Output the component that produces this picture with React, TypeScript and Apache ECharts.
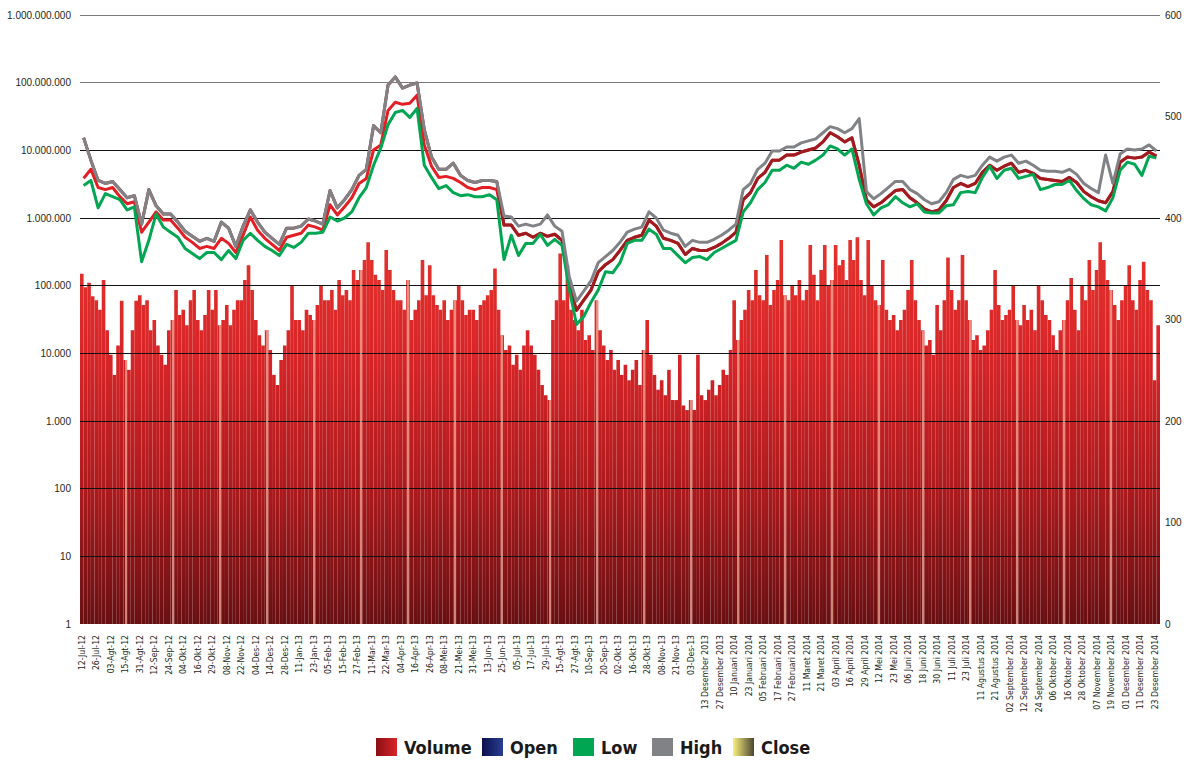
import React, { useEffect, useRef } from 'react';
import * as echarts from 'echarts';

// Tick labels of the date axis (one every four trading sessions)
const dateLabels = [
  '12-Jul-12', '26-Jul-12', '03-Agt-12', '15-Agt-12', '31-Agt-12', '12-Sep-12', '24-Sep-12', '04-Okt-12',
  '16-Okt-12', '29-Okt-12', '08-Nov-12', '22-Nov-12', '04-Des-12', '14-Des-12', '28-Des-12', '11-Jan-13',
  '23-Jan-13', '05-Feb-13', '15-Feb-13', '27-Feb-13', '11-Mar-13', '22-Mar-13', '04-Apr-13', '16-Apr-13',
  '26-Apr-13', '08-Mei-13', '21-Mei-13', '31-Mei-13', '13-Jun-13', '25-Jun-13', '05-Jul-13', '17-Jul-13',
  '29-Jul-13', '15-Agt-13', '27-Agt-13', '10-Sep-13', '20-Sep-13', '02-Okt-13', '16-Okt-13', '28-Okt-13',
  '08-Nov-13', '21-Nov-13', '03-Des-13', '13 Desember 2013', '27 Desember 2013', '10 Januari 2014',
  '23 Januari 2014', '05 Februari 2014', '17 Februari 2014', '27 Februari 2014', '11 Maret 2014',
  '21 Maret 2014', '03 April 2014', '16 April 2014', '29 April 2014', '12 Mei 2014', '23 Mei 2014',
  '06 Juni 2014', '18 Juni 2014', '30 Juni 2014', '11 Juli 2014', '23 Juli 2014', '11 Agustus 2014',
  '21 Agustus 2014', '02 September 2014', '12 September 2014', '24 September 2014', '06 Oktober 2014',
  '16 Oktober 2014', '28 Oktober 2014', '07 November 2014', '19 November 2014', '01 Desember 2014',
  '11 Desember 2014', '23 Desember 2014',
];

// Traded volume per session (log scale, left axis)
const volume = [
  150000, 95000, 110000, 70000, 61000, 44000, 121000, 22000, 9500, 4800, 13000, 60000,
  8000, 5700, 22000, 60000, 72000, 52000, 61000, 22000, 31000, 13000, 9500, 6800,
  22000, 31000, 86000, 37000, 44000, 26000, 61000, 86000, 31000, 22000, 37000, 86000,
  44000, 86000, 26000, 31000, 52000, 26000, 44000, 61000, 61000, 121000, 200000, 86000,
  31000, 18500, 13000, 22000, 11200, 4800, 3400, 8000, 13000, 22000, 102000, 31000,
  31000, 22000, 44000, 37000, 31000, 52000, 102000, 61000, 61000, 86000, 44000, 121000,
  72000, 86000, 61000, 170000, 121000, 170000, 239000, 440000, 239000, 145000, 121000, 86000,
  336000, 170000, 86000, 61000, 61000, 44000, 121000, 31000, 44000, 61000, 239000, 72000,
  200000, 72000, 52000, 44000, 61000, 31000, 44000, 61000, 102000, 61000, 37000, 44000,
  44000, 31000, 52000, 61000, 72000, 86000, 180000, 44000, 18500, 11200, 13000, 6800,
  9500, 5700, 13000, 22000, 13000, 9500, 5700, 3400, 2400, 2040, 31000, 61000,
  300000, 61000, 200000, 44000, 31000, 22000, 44000, 15700, 18500, 11200, 61000, 22000,
  13000, 8000, 11200, 5700, 8000, 4800, 6800, 4000, 5700, 8000, 3400, 11200,
  31000, 9500, 4800, 2900, 4000, 2400, 5700, 2040, 2040, 9500, 1700, 1450,
  2040, 1450, 9500, 2400, 2040, 2900, 4000, 2400, 3400, 5700, 4800, 11200,
  61000, 15700, 31000, 44000, 86000, 61000, 170000, 72000, 61000, 285000, 52000, 86000,
  121000, 473000, 72000, 61000, 102000, 72000, 121000, 61000, 86000, 400000, 145000, 61000,
  170000, 400000, 102000, 121000, 400000, 200000, 239000, 121000, 473000, 239000, 520000, 121000,
  72000, 473000, 102000, 61000, 52000, 239000, 44000, 31000, 37000, 22000, 31000, 44000,
  86000, 239000, 61000, 31000, 22000, 13000, 15700, 9500, 52000, 22000, 61000, 260000,
  86000, 44000, 61000, 285000, 61000, 31000, 15700, 18500, 11200, 13000, 22000, 44000,
  170000, 52000, 31000, 37000, 44000, 102000, 31000, 26000, 52000, 31000, 44000, 22000,
  102000, 61000, 37000, 31000, 18500, 11200, 22000, 31000, 61000, 130000, 44000, 22000,
  102000, 61000, 239000, 86000, 170000, 440000, 239000, 121000, 86000, 52000, 31000, 61000,
  102000, 200000, 61000, 44000, 121000, 225000, 86000, 61000, 4000, 26000,
];

// Prices, two points per label interval (right axis)
const highPrice = [
  479, 457, 437, 434, 436, 428, 420, 422, 394, 428,
  412, 404, 404, 396, 387, 382, 377, 380, 377, 396,
  390, 372, 392, 408, 396, 386, 380, 374, 390, 390,
  392, 399, 397, 394, 427, 410, 418, 428, 442, 448,
  491, 484, 531, 539, 528, 531, 533, 487, 460, 448,
  448, 454, 442, 437, 435, 437, 437, 436, 402, 401,
  392, 394, 392, 394, 403, 392, 387, 342, 318, 328,
  338, 356, 362, 368, 376, 386, 389, 391, 406, 400,
  388, 385, 383, 372, 378, 376, 376, 379, 383, 388,
  394, 428, 434, 448, 454, 466, 466, 470, 470, 474,
  476, 478, 484, 490, 488, 484, 488, 498, 426, 419,
  424, 430, 436, 436, 428, 424, 418, 414, 416, 425,
  438, 442, 440, 442, 452, 460, 456, 460, 462, 454,
  456, 452, 447, 446, 446, 445, 448, 443, 434, 429,
  425, 462, 434, 463, 468, 467, 468, 472, 466,
];

const lowPrice = [
  432, 437, 410, 424, 421, 418, 408, 411, 357, 378,
  404, 391, 386, 381, 370, 365, 360, 366, 366, 359,
  368, 360, 378, 385, 378, 372, 368, 363, 374, 371,
  376, 385, 385, 386, 401, 397, 400, 406, 420, 430,
  452, 469, 492, 504, 506, 499, 508, 452, 440, 429,
  432, 425, 422, 423, 421, 421, 423, 418, 359, 383,
  363, 375, 375, 384, 373, 379, 373, 330, 295, 303,
  317, 329, 347, 346, 356, 375, 378, 378, 389, 384,
  370, 370, 363, 356, 361, 362, 359, 366, 370, 374,
  378, 406, 415, 428, 435, 447, 447, 452, 449, 455,
  453, 457, 462, 471, 468, 462, 468, 438, 414, 403,
  410, 413, 421, 415, 411, 414, 406, 405, 405, 412,
  413, 425, 426, 425, 440, 451, 439, 447, 449, 439,
  441, 443, 428, 430, 433, 433, 437, 427, 419, 413,
  411, 407, 420, 447, 455, 453, 442, 461, 459,
];

const closePrice = [
  439, 448, 430, 428, 430, 421, 414, 416, 386, 396,
  406, 398, 398, 390, 381, 376, 370, 372, 370, 380,
  375, 366, 383, 401, 388, 380, 374, 368, 381, 383,
  385, 393, 391, 388, 413, 403, 411, 420, 434, 439,
  467, 472, 506, 514, 512, 513, 521, 472, 451, 440,
  441, 439, 435, 430, 428, 430, 430, 428, 393, 393,
  383, 385, 381, 385, 382, 384, 378, 334, 309, 319,
  329, 347, 354, 359, 368, 378, 381, 383, 398, 392,
  380, 378, 375, 364, 370, 368, 368, 371, 375, 380,
  386, 418, 425, 439, 445, 457, 457, 462, 462, 465,
  467, 469, 475, 484, 480, 475, 479, 452, 418, 411,
  415, 421, 427, 428, 420, 415, 409, 406, 408, 417,
  430, 434, 431, 434, 445, 452, 447, 451, 454, 445,
  447, 444, 439, 438, 437, 436, 440, 435, 426, 421,
  417, 415, 426, 455, 460, 459, 460, 465, 461,
];

const openPrice = [
  479, 457, 437, 434, 436, 428, 420, 422, 394, 428,
  412, 404, 404, 396, 387, 382, 377, 380, 377, 396,
  390, 372, 392, 408, 396, 386, 380, 374, 390, 390,
  392, 399, 397, 394, 427, 410, 418, 428, 442, 448,
  491, 484, 531, 539, 528, 531, 533, 487, 460, 448,
  448, 454, 442, 437, 435, 437, 437, 436, 393, 393,
  383, 385, 381, 385, 382, 384, 378, 334, 309, 319,
  329, 347, 354, 359, 368, 378, 381, 383, 398, 392,
  380, 378, 375, 364, 370, 368, 368, 371, 375, 380,
  386, 418, 425, 439, 445, 457, 457, 462, 462, 465,
  467, 469, 475, 484, 480, 475, 479, 452, 418, 411,
  415, 421, 427, 428, 420, 415, 409, 406, 408, 417,
  430, 434, 431, 434, 445, 452, 447, 451, 454, 445,
  447, 444, 439, 438, 437, 436, 440, 435, 426, 421,
  417, 415, 426, 455, 460, 459, 460, 465, 461,
];

const BARS_PER_LABEL = 4;
const POINTS_PER_LABEL = 2;

const NARROW = "'DejaVu Sans Condensed', 'Liberation Sans Narrow', sans-serif";
const SANS = "'Liberation Sans', 'DejaVu Sans', sans-serif";

const RED = '#e31e24';
const MAROON = '#9e1b20';
const GREEN = '#00a651';
const GREY = '#808285';

function categories(count: number, perLabel: number): string[] {
  const out: string[] = [];
  for (let i = 0; i < count; i++) {
    out.push(i % perLabel === 0 ? dateLabels[i / perLabel] : '');
  }
  return out;
}

function dotted(v: number): string {
  return Math.round(v)
    .toString()
    .replace(/\B(?=(\d{3})+(?!\d))/g, '.');
}

function hGrad(a: string, b: string) {
  return new echarts.graphic.LinearGradient(0, 0, 1, 0, [
    { offset: 0, color: a },
    { offset: 1, color: b },
  ]);
}

export default function App() {
  const ref = useRef<HTMLDivElement>(null);

  useEffect(() => {
    if (!ref.current) return;
    const chart = echarts.init(ref.current, undefined, { renderer: 'svg' });

    const barCats = categories(volume.length, BARS_PER_LABEL);
    const lineCats = categories(closePrice.length, POINTS_PER_LABEL);

    // vertical shading of the volume columns, fixed to the plot (dark at the base)
    const barFill = new echarts.graphic.LinearGradient(
      0, 236, 0, 624,
      [
        { offset: 0, color: '#e4332d' },
        { offset: 0.3, color: '#d82528' },
        { offset: 0.65, color: '#ad1a1d' },
        { offset: 1, color: '#680f12' },
      ],
      true
    );

    // light seams running through the column mass every ~13 sessions
    const seams = Array.from({ length: 22 }, (_, n) => Math.round(12.47 + 12.94 * n));

    const legendText = {
      fontFamily: NARROW,
      fontWeight: 'bold' as const,
      fontSize: 18,
      lineHeight: 18,
      color: '#1a1a1a',
      padding: [0, 0, 0, 2],
    };
    const legendItems: [string, any, number][] = [
      ['Volume', hGrad('#8a0f13', '#d8252a'), 376],
      ['Open', hGrad('#0c0f4e', '#2a3f91'), 482],
      ['Low', GREEN, 573],
      ['High', GREY, 652],
      ['Close', hGrad('#fbf07e', '#4a4630'), 733],
    ];

    const lineSeries = (name: string, data: number[], color: string, z: number) => ({
      name,
      type: 'line',
      xAxisIndex: 1,
      yAxisIndex: 1,
      data,
      symbol: 'none',
      lineStyle: { color, width: 3, join: 'round' },
      itemStyle: { color },
      z,
    });

    chart.setOption({
      animation: false,
      backgroundColor: '#ffffff',
      grid: { left: 80, right: 27, top: 15, bottom: 140 },
      legend: legendItems.map(([name, color, left]) => ({
        left,
        top: 738,
        padding: 0,
        icon: 'rect',
        itemWidth: 21,
        itemHeight: 18,
        selectedMode: false,
        textStyle: legendText,
        data: [{ name, icon: 'rect', itemStyle: { color } }],
      })),
      xAxis: [
        {
          type: 'category',
          data: barCats,
          boundaryGap: true,
          axisLine: { show: false },
          axisTick: { show: false },
          splitLine: { show: false },
          axisLabel: {
            interval: BARS_PER_LABEL - 1,
            rotate: 90,
            margin: 11,
            fontSize: 8.6,
            fontFamily: NARROW,
            color: '#231f20',
          },
        },
        {
          type: 'category',
          data: lineCats,
          boundaryGap: true,
          show: false,
        },
      ],
      yAxis: [
        {
          type: 'log',
          logBase: 10,
          min: 1,
          max: 1000000000,
          splitNumber: 9,
          z: 3,
          axisLine: { show: false },
          axisTick: { show: false },
          axisLabel: {
            margin: 9,
            fontSize: 10,
            fontFamily: SANS,
            color: '#231f20',
            formatter: (v: number) => dotted(v),
          },
          splitLine: {
            show: true,
            lineStyle: {
              width: 1.2,
              color: [
                'rgba(0,0,0,0)', '#111', '#111', '#111', '#111',
                '#111', '#111', '#111', '#7b7b7b', '#7b7b7b',
              ],
            },
          },
        },
        {
          type: 'value',
          position: 'right',
          min: 0,
          max: 600,
          interval: 100,
          axisLine: { show: false },
          axisTick: { show: false },
          splitLine: { show: false },
          axisLabel: { margin: 5, fontSize: 10, fontFamily: SANS, color: '#231f20' },
        },
      ],
      series: [
        {
          name: 'Volume',
          type: 'bar',
          data: volume,
          barCategoryGap: '0%',
          barGap: '0%',
          itemStyle: { color: barFill },
          z: 2,
          markLine: {
            silent: true,
            symbol: 'none',
            label: { show: false },
            lineStyle: { color: 'rgba(247,178,158,0.9)', width: 1.6, type: 'solid' },
            data: seams.map((j) => [{ coord: [j, 1] }, { coord: [j, volume[j]] }]),
          },
        },
        lineSeries('Close', closePrice, RED, 4),
        lineSeries('Open', openPrice, MAROON, 5),
        lineSeries('Low', lowPrice, GREEN, 6),
        lineSeries('High', highPrice, GREY, 7),
      ],
    });

    return () => chart.dispose();
  }, []);

  return (
    <div
      ref={ref}
      style={{ position: 'absolute', left: 0, top: 0, width: 1187, height: 764, background: '#fff' }}
    />
  );
}
